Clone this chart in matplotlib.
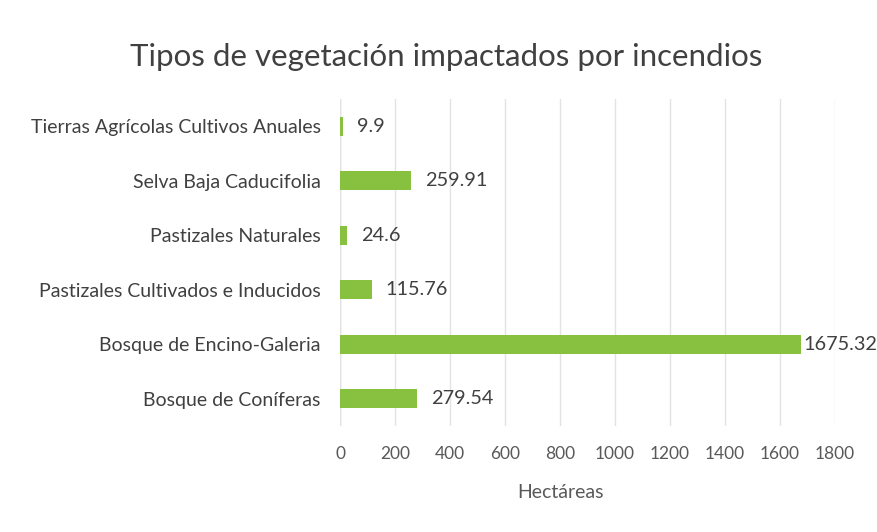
import matplotlib.pyplot as plt

plt.rcParams['font.family'] = ['Lato', 'DejaVu Sans']

categories = ["Tierras Agrícolas Cultivos Anuales", "Selva Baja Caducifolia",
              "Pastizales Naturales", "Pastizales Cultivados e Inducidos",
              "Bosque de Encino-Galeria", "Bosque de Coníferas"]
values = [9.9, 259.91, 24.6, 115.76, 1675.32, 279.54]
labels = ["9.9", "259.91", "24.6", "115.76", "1675.32", "279.54"]
xticks = [0, 200, 400, 600, 800, 1000, 1200, 1400, 1600, 1800]

fig = plt.figure(figsize=(8.77, 5.32), dpi=100)
ax = fig.add_axes([0.3877, 0.199, 0.5644, 0.615])

pos = list(range(len(categories)))
ax.barh(pos, values, height=0.35, color="#88c040")
for p, v, t in zip(pos, values, labels):
    # the longest bar's label sits tight against the bar end, as in Excel
    off = 2 if v > 1500 else 10
    ax.annotate(t, (v, p), xytext=(off, 0), textcoords="offset points",
                va="center", ha="left", fontsize=14.3, color="#404040")

ax.set_ylim(len(categories) - 0.5, -0.5)
ax.set_xlim(0, 1800)
ax.set_yticks(pos)
ax.set_yticklabels(categories, fontsize=14, color="#404040")
ax.set_xticks(xticks)
ax.set_xticklabels([str(x) for x in xticks], fontsize=12.5, color="#595959")
ax.tick_params(length=0, pad=14)
ax.tick_params(axis="y", pad=14)
ax.grid(axis="x", color="#e3e3e3", linewidth=1)
ax.set_axisbelow(True)
for s in ax.spines.values():
    s.set_visible(False)
ax.axvline(0, color="#d0d0d0", linewidth=1, zorder=0)

fig.text(0.639, 0.075, "Hectáreas", ha="center", va="center",
         fontsize=14, color="#595959")
fig.text(0.509, 0.893, "Tipos de vegetación impactados por incendios",
         ha="center", va="center", fontsize=22.5, color="#404040")

fig.savefig("out.png", dpi=100)
